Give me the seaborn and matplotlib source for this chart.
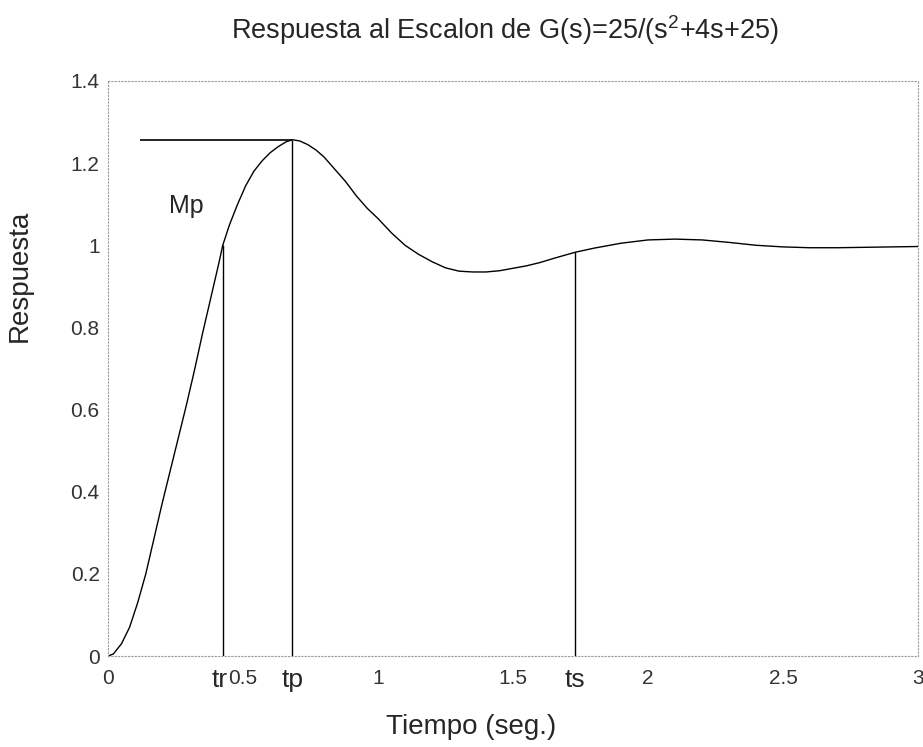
import matplotlib
matplotlib.use("Agg")
import matplotlib.pyplot as plt
import seaborn as sns
import pandas as pd

# Step response samples (time in s, response)
t_vals = [0.0, 0.02, 0.05, 0.08, 0.11, 0.14, 0.17, 0.20, 0.23, 0.26,
          0.29, 0.32, 0.35, 0.38, 0.41, 0.425, 0.45, 0.48, 0.51, 0.54,
          0.57, 0.60, 0.63, 0.66, 0.683, 0.71, 0.74, 0.77, 0.80, 0.84,
          0.88, 0.92, 0.96, 1.00, 1.05, 1.10, 1.15, 1.20, 1.25, 1.30,
          1.35, 1.40, 1.45, 1.50, 1.55, 1.60, 1.65, 1.73, 1.80, 1.90,
          2.00, 2.10, 2.20, 2.30, 2.40, 2.50, 2.60, 2.70, 2.80, 2.90, 3.00]
y_vals = [0.0, 0.005, 0.03, 0.07, 0.13, 0.20, 0.285, 0.37, 0.45, 0.53,
          0.61, 0.695, 0.785, 0.87, 0.955, 1.0, 1.05, 1.10, 1.145, 1.18,
          1.205, 1.225, 1.24, 1.252, 1.257, 1.254, 1.245, 1.232, 1.215, 1.185,
          1.155, 1.12, 1.09, 1.065, 1.03, 1.0, 0.978, 0.96, 0.945, 0.937,
          0.935, 0.935, 0.938, 0.944, 0.95, 0.958, 0.968, 0.983, 0.993, 1.005,
          1.013, 1.015, 1.013, 1.007, 1.0, 0.996, 0.994, 0.994, 0.995, 0.996, 0.997]

# Characteristic times and their response values
marker_names = ["tr", "tp", "ts"]
marker_times = [0.425, 0.683, 1.73]
marker_values = [1.0, 1.257, 0.983]
mp_line_start = 0.118

x_ticks = [0, 0.5, 1, 1.5, 2, 2.5, 3]
x_tick_labels = ["0", "0.5", "1", "1.5", "2", "2.5", "3"]
y_ticks = [0, 0.2, 0.4, 0.6, 0.8, 1.0, 1.2, 1.4]
y_tick_labels = ["0", "0.2", "0.4", "0.6", "0.8", "1", "1.2", "1.4"]

sns.set_theme(style="white")
plt.rcParams["font.family"] = ["Liberation Sans", "DejaVu Sans"]
plt.rcParams["mathtext.default"] = "regular"

fig = plt.figure(figsize=(9.23, 7.47), dpi=100)
ax = fig.add_axes([0.117, 0.1218, 0.8777, 0.7698])

df = pd.DataFrame({"t": t_vals, "y": y_vals})
sns.lineplot(data=df, x="t", y="y", color="black", linewidth=1.0,
             estimator=None, sort=False, ax=ax)

# Vertical markers for rise, peak and settling time
ax.vlines(marker_times, 0, marker_values, colors="black", linewidth=1.0)
# Overshoot level
ax.hlines(marker_values[1], mp_line_start, marker_times[1], colors="black",
          linewidth=1.2)
ax.text(0.29, 1.095, "Mp", fontsize=18, ha="center", va="center")

# Time labels sit on the tick-label row; "tr" is set just left of its line
label_offsets = {"tr": -0.012, "tp": 0.0, "ts": 0.0}
for name, t in zip(marker_names, marker_times):
    ax.text(t + label_offsets[name], -0.058, name, fontsize=19,
            ha="center", va="center")

ax.set_xlim(0, 3)
ax.set_ylim(0, 1.4)
ax.set_xticks(x_ticks)
ax.set_xticklabels(x_tick_labels)
ax.set_yticks(y_ticks)
ax.set_yticklabels(y_tick_labels)
ax.tick_params(direction="in", length=4, width=0.6, colors="#666666",
               labelsize=15, labelcolor="#333333")
ax.tick_params(axis="x", pad=9)
ax.tick_params(axis="y", pad=6)

for side, sp in ax.spines.items():
    sp.set_visible(True)
    sp.set_linestyle((0, (1, 2)))
    sp.set_color("#9a9a9a")
    sp.set_linewidth(0.8)

ax.set_xlabel("Tiempo (seg.)", fontsize=20)
ax.xaxis.set_label_coords(0.448, -0.10)
ax.set_ylabel("Respuesta", fontsize=20)
ax.yaxis.set_label_coords(-0.093, 0.661)
ax.set_title("Respuesta al Escalon de G(s)=25/(s$^2$+4s+25)", fontsize=19.5,
             pad=30, x=0.49)

fig.savefig("out.png", dpi=100, facecolor="white")
